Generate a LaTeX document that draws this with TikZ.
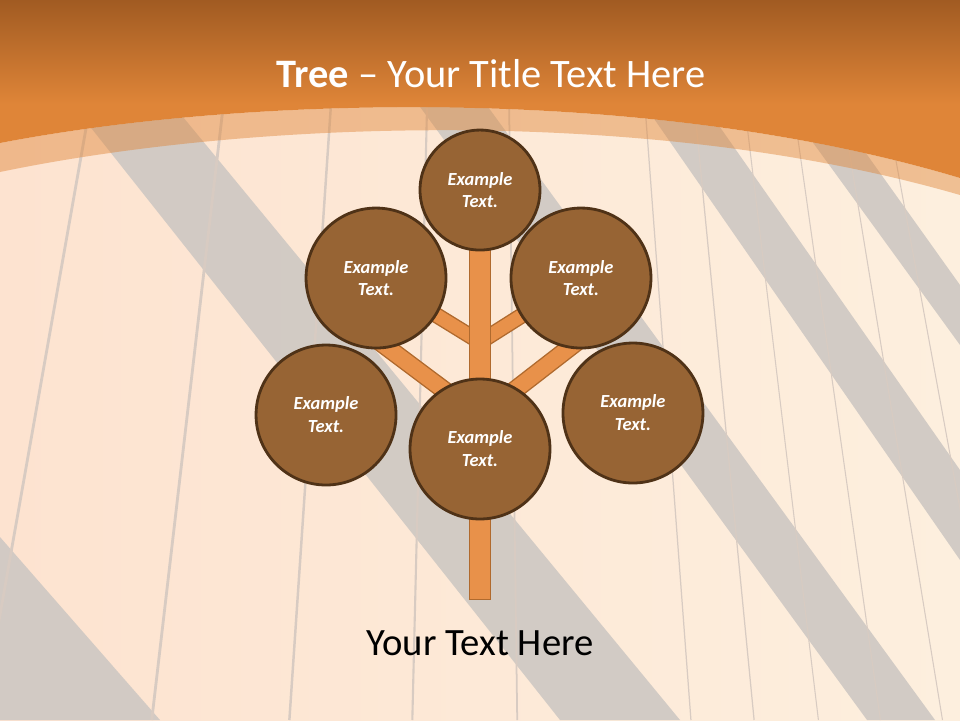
\documentclass[tikz,border=0pt]{standalone}
\usepackage{fontspec}
\setmainfont{Carlito}
\usetikzlibrary{positioning}
\definecolor{hdtop}{HTML}{A15B22}
\definecolor{hdbot}{HTML}{DF8538}
\definecolor{peachL}{HTML}{FDE3D0}
\definecolor{peachR}{HTML}{FDEFDE}
\definecolor{railgrey}{HTML}{CEC8C3}
\definecolor{seam}{HTML}{D8CBC2}
\definecolor{bark}{HTML}{976434}
\definecolor{barkedge}{HTML}{4F3217}
\definecolor{twig}{HTML}{E8914A}
\definecolor{twigedge}{HTML}{B06A2E}
\pgfdeclarelayer{deco}
\pgfdeclarelayer{back}
\pgfsetlayers{deco,back,main}
\tikzset{
  leaf/.style={circle, draw=barkedge, line width=1.6pt, fill=bark, text=white,
    font=\fontsize{10.5}{13}\selectfont\bfseries\itshape, align=center,
    minimum size=2.8cm, inner sep=0pt},
  branch/.style={draw=twigedge, double=twig, double distance=7.5pt, line width=0.8pt},
  trunk/.style={branch, double distance=11pt, line cap=rect},
  rail/.style={fill=railgrey, opacity=0.9}
}
\begin{document}
\begin{tikzpicture}[x=0.02cm, y=-0.02cm, node distance=2cm]
\useasboundingbox (0,0) rectangle (960,720);

% the tree
\node(C) [leaf] at (480,449) {Example\\Text.};
\node(T) [leaf, minimum size=2.4cm, above of=C, node distance=5.18cm] {Example\\Text.};
\node(UL) [leaf, above of=C, node distance=3.42cm, xshift=-2.08cm] {Example\\Text.};
\node(UR) [leaf, above of=C, node distance=3.42cm, xshift=2.02cm] {Example\\Text.};
\node(LL) [leaf, left of=C, node distance=3.08cm, yshift=0.68cm] {Example\\Text.};
\node(LR) [leaf, right of=C, node distance=3.06cm, yshift=0.72cm] {Example\\Text.};
\coordinate(upfork) at (480,342);
\coordinate(lowfork) at (480,417);
\coordinate(root) at (480,589);

\begin{pgfonlayer}{back}
  \draw[branch] (upfork) -- (UL.center);
  \draw[branch] (upfork) -- (UR.center);
  \draw[branch, double distance=9pt, shorten >=-10pt] (lowfork) -- (UL.-80);
  \draw[branch, double distance=9pt, shorten >=-10pt] (lowfork) -- (UR.-100);
  \draw[trunk] (T.center) -- (root);
\end{pgfonlayer}

% backdrop
\begin{pgfonlayer}{deco}
  \shade[left color=peachL, right color=peachR] (0,0) rectangle (960,720);
  \fill[rail] (69,100) -- (169,100) -- (680,720) -- (560,720) -- cycle;
  \fill[rail] (415,100) -- (483,100) -- (935,720) -- (867,720) -- cycle;
  \fill[rail] (641,100) -- (701,100) -- (960,470) -- (960,560) -- cycle;
  \fill[rail] (782,100) -- (828,100) -- (960,285) -- (960,345) -- cycle;
  \fill[rail] (0,537) -- (160,720) -- (0,720) -- cycle;
  \foreach \x/\w in {38/1.6, 189/1.6, 311/1.4, 420/1.2, 513/1, 667/0.7, 723/0.7,
                     780/0.6, 835/0.6, 890/0.6, 940/0.6}
    \draw[seam, line width=\w pt] ({480+(\x-480)*0.88},100) -- ({480+(\x-480)*1.128},720);
  \fill[hdbot]
    (0,0) -- (960,0) -- (960,178) .. controls (650,85) and (250,95) .. (0,143) -- cycle;
  \shade[top color=hdtop, bottom color=hdbot] (0,0) rectangle (960,104);
  \fill[hdbot, opacity=0.45]
    (0,143) .. controls (250,95) and (650,85) .. (960,178)
    -- (960,195) .. controls (650,105) and (250,120) .. (0,172) -- cycle;
\end{pgfonlayer}

\node(title) [anchor=base, text=white, font=\fontsize{23}{28}\selectfont] at (491,87)
  {\textbf{Tree} – Your Title Text Here};
\node(caption) [anchor=base, font=\fontsize{22}{26}\selectfont] at (480,655) {Your Text Here};
\end{tikzpicture}
\end{document}
